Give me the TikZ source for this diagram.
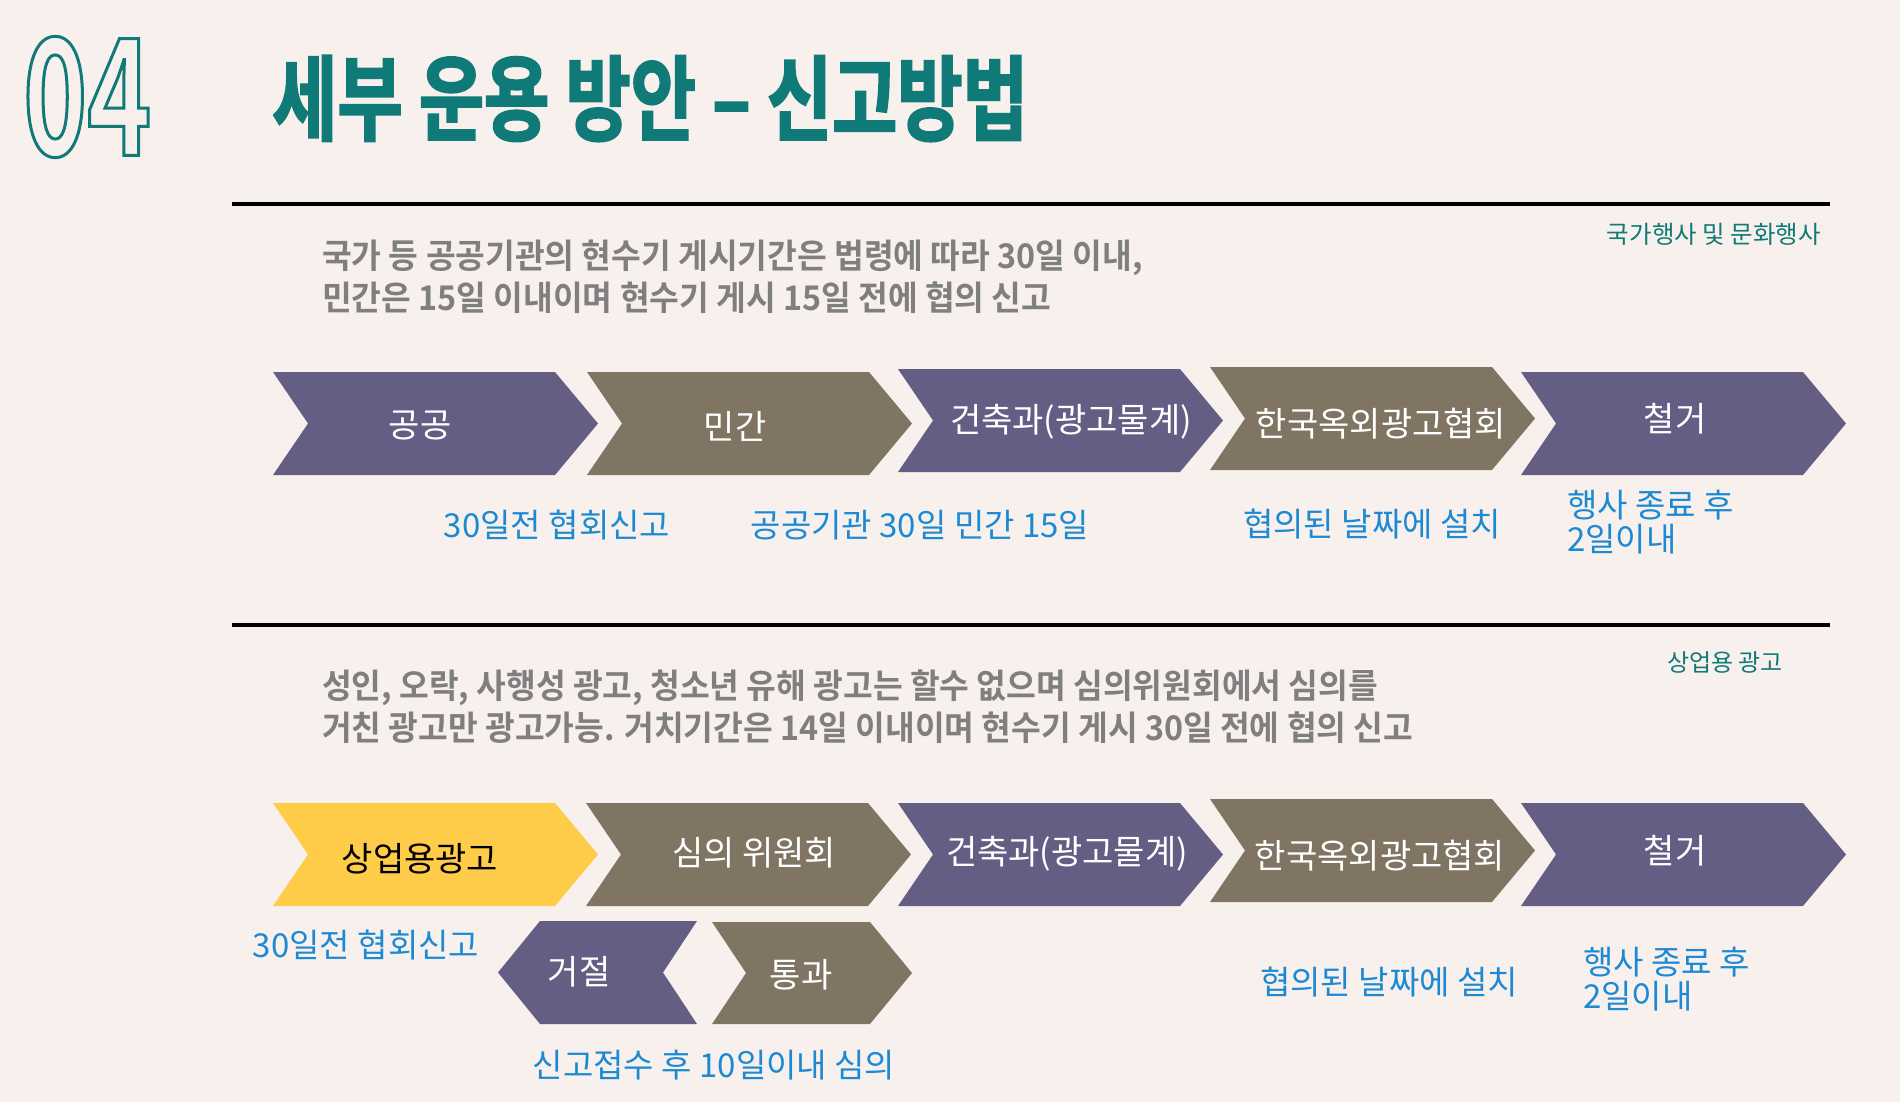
\documentclass[tikz,border=0pt]{standalone}
\usepackage{fontspec}
\setmainfont{Noto Sans CJK KR}
\newfontfamily\descfam{Noto Sans CJK KR Bold}[FakeStretch=0.95]
\newfontfamily\titlefam{Noto Sans CJK KR Bold}[FakeStretch=0.763,FakeBold=2]
\newfontfamily\numfam{Noto Sans CJK KR Bold}[FakeStretch=0.67]
\usetikzlibrary{positioning}
\definecolor{pagebg}{HTML}{F8F0ED}
\definecolor{tealtitle}{HTML}{0F7A78}
\definecolor{chevpurple}{HTML}{645E84}
\definecolor{chevbrown}{HTML}{7F7562}
\definecolor{chevyellow}{HTML}{FFCC4A}
\definecolor{noteblue}{HTML}{1C89D3}
\definecolor{descgray}{HTML}{7F7F7F}
\begin{document}
\begin{tikzpicture}[x=1pt,y=-1pt]
\tikzset{chevtext/.style={font=\fontsize{34}{34}\selectfont,text=white,inner sep=0pt}}
\tikzset{note/.style={font=\fontsize{33}{34}\selectfont,text=noteblue,inner sep=0pt,align=left}}
\tikzset{desc/.style={font=\descfam\fontsize{34}{42}\selectfont,text=descgray,inner sep=0pt,align=left,anchor=west}}
\tikzset{tag/.style={text=tealtitle,inner sep=0pt,anchor=east}}
\tikzset{rule/.style={line width=4.5pt,black}}
\tikzset{chev/.pic={\fill[#1] (0,0) -- (282,0) -- (325,51.5) -- (282,103) -- (0,103) -- (35,51.5) -- cycle;}}
\tikzset{subchev/.pic={\fill[#1] (0,0) -- (158,0) -- (200,51) -- (158,102) -- (0,102) -- (34,51) -- cycle;}}
\tikzset{backchev/.pic={\fill[#1] (42,0) -- (199,0) -- (165,51.5) -- (199,103) -- (42,103) -- (0,51.5) -- cycle;}}
% background
\fill[pagebg] (0,0) rectangle (1900,1102);
% heading
\node[anchor=west,inner sep=0pt,text=tealtitle,font=\numfam\fontsize{162}{162}\selectfont] (secnum) at (23,97) {\special{pdf:literal direct 1 Tr 3 w}04\special{pdf:literal direct 0 Tr}};
\node[anchor=west,inner sep=0pt,text=tealtitle,font=\titlefam\fontsize{93}{93}\selectfont] (title) at (272,98.5) {세부 운용 방안 – 신고방법};
% section 1
\draw[rule] (232,204) -- (1830,204);
\node[tag,font=\fontsize{24.5}{24.5}\selectfont] (tag1) at (1821,234.5) {국가행사 및 문화행사};
\node[desc] (desc1) at (322,277) {국가 등 공공기관의 현수기 게시기간은 법령에 따라 30일 이내,\\민간은 15일 이내이며 현수기 게시 15일 전에 협의 신고};
\pic at (273,372) {chev=chevpurple};
\pic at (587,372) {chev=chevbrown};
\pic at (898,369) {chev=chevpurple};
\pic at (1210,367) {chev=chevbrown};
\pic at (1521,372) {chev=chevpurple};
\node[chevtext] (pub) at (420,426) {공공};
\node[chevtext] (priv) at (735,426) {민간};
\node[chevtext] (arch1) at (1071,422) {건축과(광고물계)};
\node[chevtext] (assoc1) at (1381,424) {한국옥외광고협회};
\node[chevtext] (remove1) at (1675,419) {철거};
\node[note] (n1) at (557,525) {30일전 협회신고};
\node[note] (n2) at (920,525) {공공기관 30일 민간 15일};
\node[note] (n3) at (1372,524) {협의된 날짜에 설치};
\node[note,anchor=west] (n4) at (1567,522) {행사 종료 후\\2일이내};
% section 2
\draw[rule] (232,625) -- (1830,625);
\node[tag,font=\fontsize{24}{24}\selectfont] (tag2) at (1783,662.5) {상업용 광고};
\node[desc] (desc2) at (322,707) {성인, 오락, 사행성 광고, 청소년 유해 광고는 할수 없으며 심의위원회에서 심의를\\거친 광고만 광고가능. 거치기간은 14일 이내이며 현수기 게시 30일 전에 협의 신고};
\pic at (273,803) {chev=chevyellow};
\pic at (586,803) {chev=chevbrown};
\pic at (898,803) {chev=chevpurple};
\pic at (1210,799) {chev=chevbrown};
\pic at (1521,803) {chev=chevpurple};
\pic at (498,921) {backchev=chevpurple};
\pic at (712,922) {subchev=chevbrown};
\node[chevtext,text=black] (comm) at (420,859) {상업용광고};
\node[chevtext] (review) at (754,853) {심의 위원회};
\node[chevtext] (arch2) at (1067,854) {건축과(광고물계)};
\node[chevtext] (assoc2) at (1380,856) {한국옥외광고협회};
\node[chevtext] (remove2) at (1675,851) {철거};
\node[chevtext] (reject) at (579,972) {거절};
\node[chevtext] (pass) at (801,975) {통과};
\node[note] (m1) at (366,945) {30일전 협회신고};
\node[note] (m2) at (714,1065) {신고접수 후 10일이내 심의};
\node[note] (m3) at (1389,982) {협의된 날짜에 설치};
\node[note,anchor=west] (m4) at (1583,979.5) {행사 종료 후\\2일이내};
\end{tikzpicture}
\end{document}
